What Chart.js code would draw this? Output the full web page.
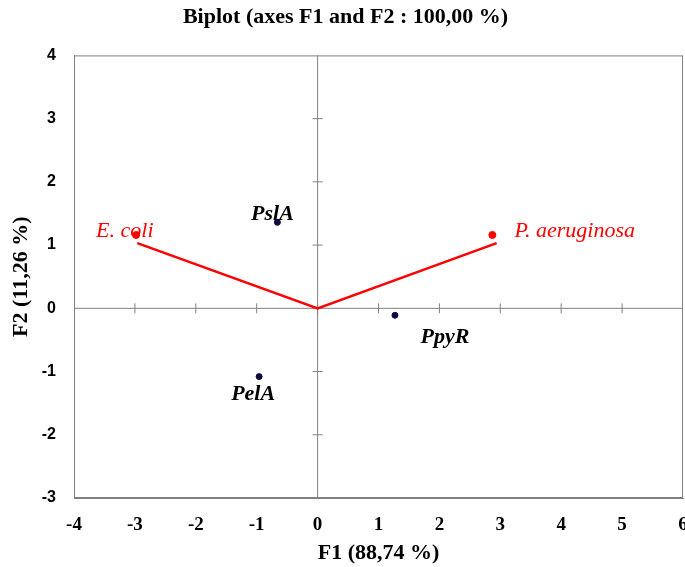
<!DOCTYPE html>
<html>
<head>
<meta charset="utf-8">
<script src="https://cdn.jsdelivr.net/npm/chart.js@4/dist/chart.umd.min.js"></script>
<style>
  html, body { margin: 0; padding: 0; background: #fff; overflow: hidden; }
  #wrap { width: 685px; height: 567px; }
</style>
</head>
<body>
<div id="wrap"><canvas id="biplot"></canvas></div>
<script>
// Variables (active)
const varNames = ['E. coli', 'P. aeruginosa'];
const varF1 = [-2.98, 2.87];
const varF2 = [1.16, 1.16];
const vecF1 = [-2.96, 2.94];
const vecF2 = [1.03, 1.03];

// Observations
const obsNames = ['PslA', 'PpyR', 'PelA'];
const obsF1 = [-0.66, 1.27, -0.96];
const obsF2 = [1.36, -0.11, -1.08];

const xRange = [-4, 6];
const yRange = [-3, 4];

const grey = '#808080';
const red = '#ff0000';
const navy = '#0b0b40';

// where each label sits relative to its point (px)
const labelOffsets = {
  'PslA': { dx: -5, dy: -8, align: 'center' },
  'PpyR': { dx: 50, dy: 22, align: 'center' },
  'PelA': { dx: -6, dy: 18, align: 'center' },
  'E. coli': { dx: -40, dy: -4, align: 'left' },
  'P. aeruginosa': { dx: 22, dy: -4, align: 'left' }
};

const vectorData = [];
vectorData.push({ x: vecF1[0], y: vecF2[0] });
vectorData.push({ x: 0, y: 0 });
vectorData.push({ x: vecF1[1], y: vecF2[1] });

const zeroAxes = {
  id: 'zeroAxes',
  beforeDatasetsDraw(chart) {
    const { ctx, chartArea: a, scales: { x, y } } = chart;
    const x0 = x.getPixelForValue(0), y0 = y.getPixelForValue(0);
    ctx.save();
    ctx.strokeStyle = grey;
    ctx.lineWidth = 1;
    ctx.beginPath();
    ctx.moveTo(a.left, y0); ctx.lineTo(a.right, y0);
    ctx.moveTo(x0, a.top); ctx.lineTo(x0, a.bottom);
    for (let v = xRange[0] + 1; v < xRange[1]; v++) {
      const px = x.getPixelForValue(v);
      ctx.moveTo(px, y0 - 5); ctx.lineTo(px, y0 + 5);
    }
    for (let v = yRange[0] + 1; v < yRange[1]; v++) {
      const py = y.getPixelForValue(v);
      ctx.moveTo(x0 - 5, py); ctx.lineTo(x0 + 5, py);
    }
    ctx.stroke();
    ctx.restore();
  },
  afterDatasetsDraw(chart) {
    const { ctx, scales: { x, y } } = chart;
    ctx.save();
    ctx.textBaseline = 'middle';
    obsNames.forEach((n, i) => {
      const o = labelOffsets[n];
      ctx.font = 'italic bold 22px "Liberation Serif", "DejaVu Serif", serif';
      ctx.fillStyle = '#000';
      ctx.textAlign = o.align;
      ctx.fillText(n, x.getPixelForValue(obsF1[i]) + o.dx, y.getPixelForValue(obsF2[i]) + o.dy);
    });
    varNames.forEach((n, i) => {
      const o = labelOffsets[n];
      ctx.font = 'italic 22px "Liberation Serif", "DejaVu Serif", serif';
      ctx.fillStyle = red;
      ctx.textAlign = o.align;
      ctx.fillText(n, x.getPixelForValue(varF1[i]) + o.dx, y.getPixelForValue(varF2[i]) + o.dy);
    });
    ctx.restore();
  }
};

const serifBold = { family: '"Liberation Serif", "Times New Roman", serif', weight: 'bold' };

new Chart(document.getElementById('biplot'), {
  type: 'scatter',
  data: {
    datasets: [
      {
        type: 'line',
        data: vectorData,
        borderColor: red,
        borderWidth: 2.5,
        pointRadius: 0,
        fill: false,
        tension: 0
      },
      {
        data: varF1.map((v, i) => ({ x: v, y: varF2[i] })),
        backgroundColor: red,
        borderColor: red,
        pointRadius: 3.5
      },
      {
        data: obsF1.map((v, i) => ({ x: v, y: obsF2[i] })),
        backgroundColor: navy,
        borderColor: navy,
        pointRadius: 3
      }
    ]
  },
  options: {
    responsive: true,
    maintainAspectRatio: false,
    animation: false,
    layout: { autoPadding: false, padding: { left: 8, right: 2, top: 0, bottom: 0 } },
    plugins: {
      legend: { display: false },
      tooltip: { enabled: false },
      title: {
        display: true,
        text: 'Biplot (axes F1 and F2 : 100,00 %)',
        color: '#000',
        font: { ...serifBold, size: 22 },
        padding: { top: 4, bottom: 25 }
      }
    },
    scales: {
      x: {
        type: 'linear',
        min: xRange[0], max: xRange[1],
        grid: { display: false, drawTicks: false },
        border: { display: true, color: grey, width: 1 },
        ticks: { stepSize: 1, color: '#000', padding: 16, font: { ...serifBold, size: 19 } },
        title: {
          display: true, text: 'F1 (88,74 %)', color: '#000',
          font: { ...serifBold, size: 22 }, padding: { top: 0, bottom: 0 }
        },
        afterFit(s) { s.height = 69; s.paddingLeft = 0; s.paddingRight = 0; }
      },
      y: {
        type: 'linear',
        min: yRange[0], max: yRange[1],
        grid: { display: false, drawTicks: false },
        border: { display: true, color: grey, width: 1 },
        ticks: {
          stepSize: 1, color: '#000', padding: 18,
          font: { family: '"Liberation Sans", Arial, sans-serif', weight: 'bold', size: 16 }
        },
        title: {
          display: true, text: 'F2 (11,26 %)', color: '#000',
          font: { ...serifBold, size: 22 }, padding: { top: 0, bottom: 0 }
        },
        afterFit(s) { s.width = 66; s.paddingTop = 0; s.paddingBottom = 0; }
      }
    }
  },
  plugins: [zeroAxes, {
    id: 'frame',
    afterDraw(chart) {
      const { ctx, chartArea: a } = chart;
      ctx.save();
      ctx.strokeStyle = grey;
      ctx.lineWidth = 1;
      ctx.strokeRect(a.left + 0.5, a.top + 0.5, a.right - a.left - 1, a.bottom - a.top - 1);
      ctx.restore();
    }
  }]
});
</script>
</body>
</html>
